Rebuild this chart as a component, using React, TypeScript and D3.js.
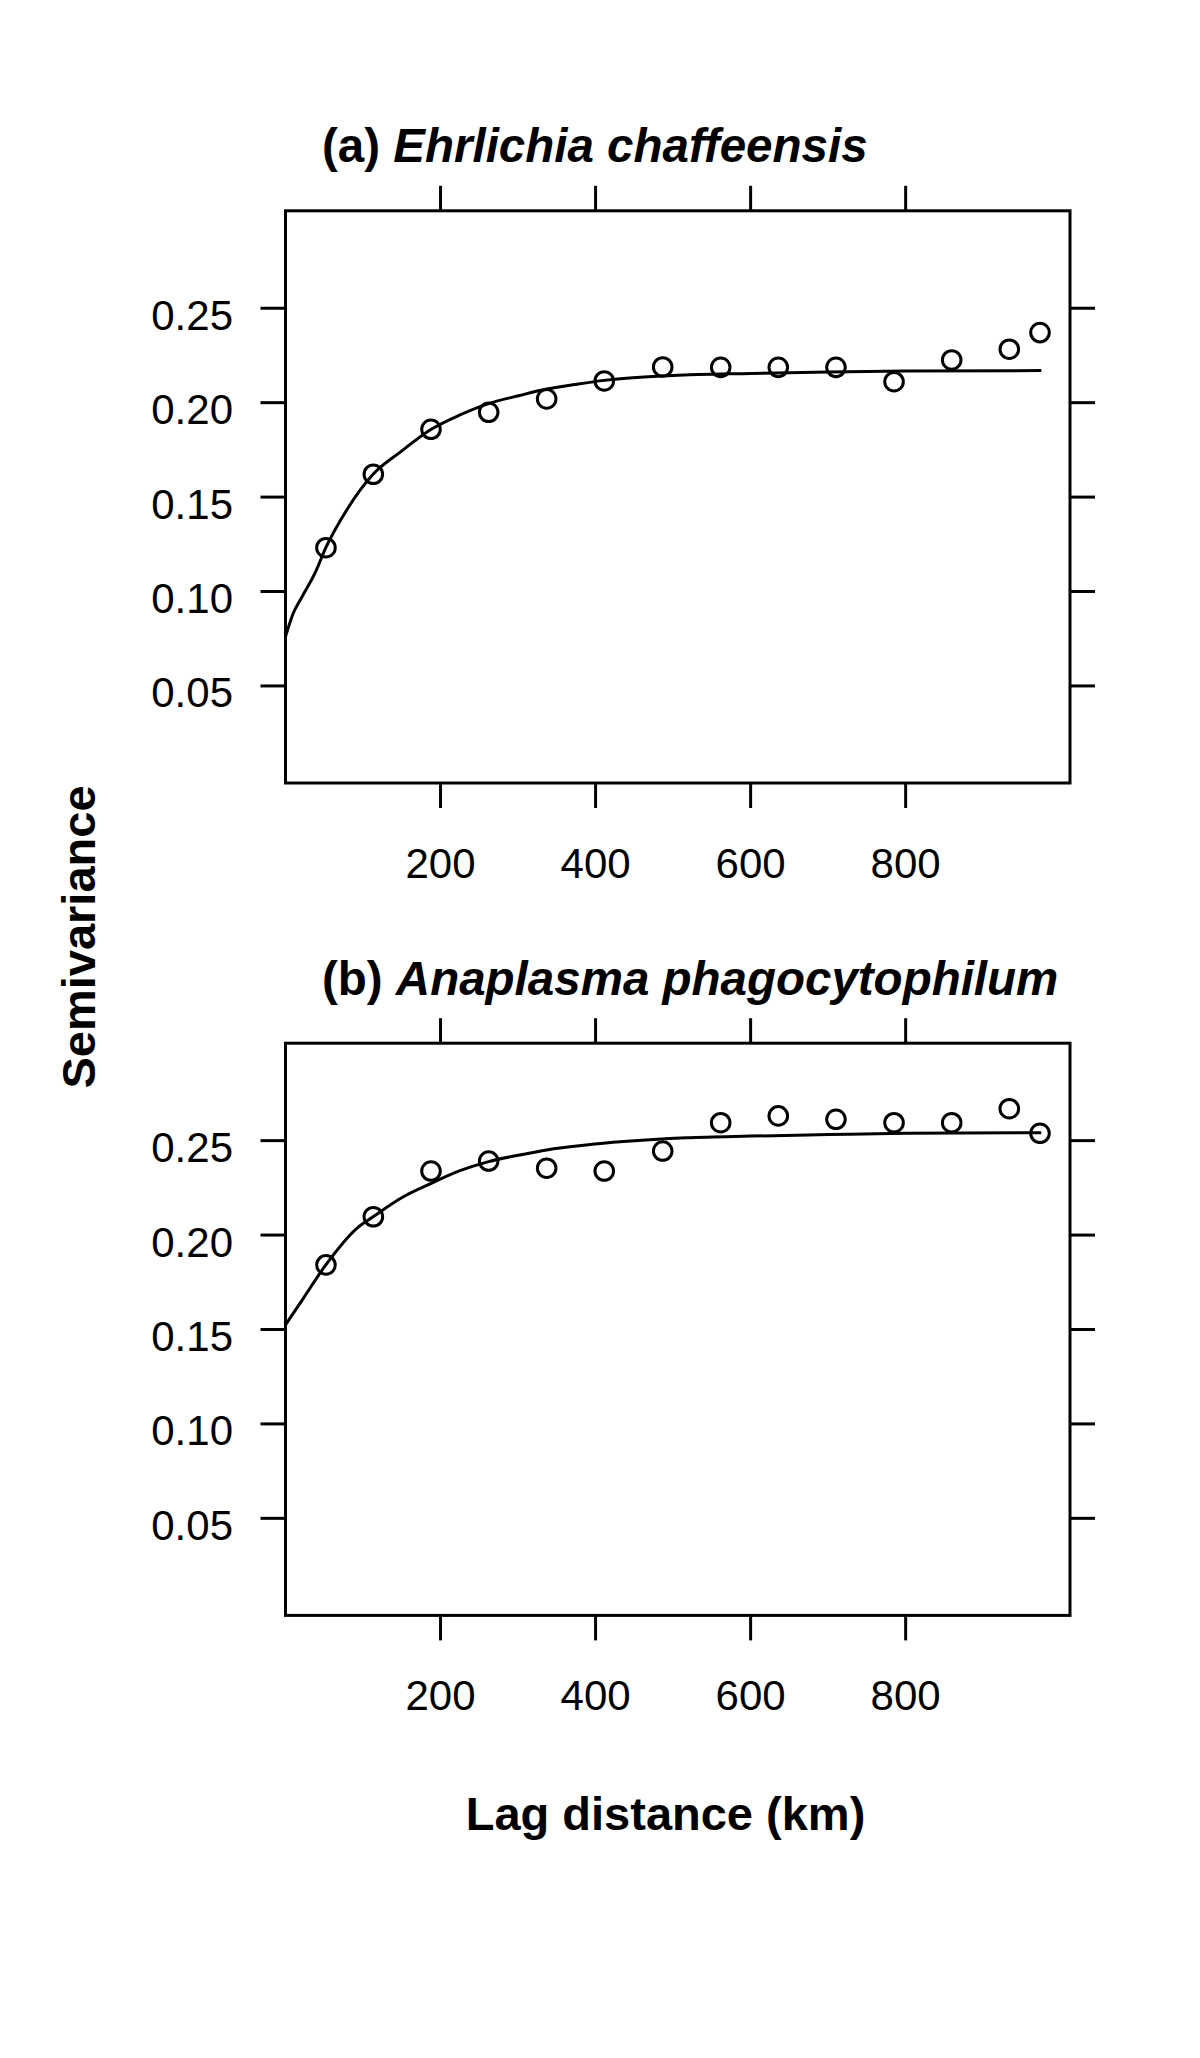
import React from "react";
import * as d3 from "d3";

// ---- data ----
const LAG_DIST = [52.2, 113.3, 187.7, 262.1, 336.9, 411.2, 486.6, 561.4, 635.7, 710.1, 785.0, 859.4, 933.7, 973.3];
const GAMMA_A = [0.1232, 0.1621, 0.1859, 0.1949, 0.202, 0.2115, 0.2189, 0.2187, 0.2187, 0.2187, 0.2111, 0.2226, 0.2283, 0.2371];
const GAMMA_B = [0.1842, 0.2097, 0.2339, 0.2392, 0.2354, 0.2339, 0.2445, 0.2595, 0.2631, 0.2613, 0.2595, 0.2595, 0.2669, 0.2539];

const FIT_DIST_A = [0, 10, 21, 38, 52, 79, 113, 148, 188, 225, 262, 302, 337, 376, 411, 453, 500, 600, 700, 800, 975];
const FIT_A = [0.0761, 0.0885, 0.097, 0.1097, 0.1232, 0.1432, 0.1621, 0.1738, 0.1859, 0.1935, 0.1995, 0.2038, 0.2072, 0.2098, 0.2118, 0.2133, 0.2144, 0.2155, 0.2163, 0.2168, 0.217];

const FIT_DIST_B = [0, 23, 52, 92, 113, 152, 188, 225, 262, 302, 337, 388, 436, 517, 600, 700, 800, 975];
const FIT_B = [0.1524, 0.1665, 0.1842, 0.2036, 0.2097, 0.2203, 0.2274, 0.2341, 0.2389, 0.2424, 0.2451, 0.2477, 0.2495, 0.2515, 0.2524, 0.2532, 0.2539, 0.2542];

const X_TICKS = [200, 400, 600, 800];
const Y_TICKS = [0.05, 0.1, 0.15, 0.2, 0.25];
const X_LIMITS = [0, 1012];
const Y_LIMITS = [-0.0014, 0.3016];

const TITLE_PREFIX = ["(a) ", "(b) "];
const TITLE_SPECIES = ["Ehrlichia chaffeensis", "Anaplasma phagocytophilum"];
const Y_LABEL = "Semivariance";
const X_LABEL = "Lag distance (km)";

// ---- layout ----
const W = 1200;
const H = 2058;
const LEFT = 285.5;
const RIGHT = 1070;
const PANEL_TOPS = [210.8, 1043.2];
const PANEL_H = 572.2;
const TICK = 25;
const FONT = "'Liberation Sans', Arial, Helvetica, sans-serif";

function Panel({ top, gamma, fitDist, fitVal, prefix, species }) {
  const x = d3.scaleLinear().domain(X_LIMITS).range([LEFT, RIGHT]);
  const y = d3.scaleLinear().domain(Y_LIMITS).range([top + PANEL_H, top]);
  const line = d3
    .line()
    .x((d) => x(d[0]))
    .y((d) => y(d[1]))
    .curve(d3.curveMonotoneX);
  const fitPts = fitDist.map((d, i) => [d, fitVal[i]]);
  const bottom = top + PANEL_H;
  return (
    <g>
      <text x={322} y={top - 48.5} fontFamily={FONT} fontSize={47.5} fontWeight="bold" fill="#000">
        {prefix}
        <tspan fontStyle="italic">{species}</tspan>
      </text>
      <rect x={LEFT} y={top} width={RIGHT - LEFT} height={PANEL_H} fill="none" stroke="#000" strokeWidth={3} />
      {X_TICKS.map((t) => (
        <g key={"x" + t}>
          <line x1={x(t)} x2={x(t)} y1={top} y2={top - TICK} stroke="#000" strokeWidth={3} />
          <line x1={x(t)} x2={x(t)} y1={bottom} y2={bottom + TICK} stroke="#000" strokeWidth={3} />
          <text x={x(t)} y={bottom + 95} textAnchor="middle" fontFamily={FONT} fontSize={42} fill="#000">
            {t}
          </text>
        </g>
      ))}
      {Y_TICKS.map((t) => (
        <g key={"y" + t}>
          <line x1={LEFT} x2={LEFT - TICK} y1={y(t)} y2={y(t)} stroke="#000" strokeWidth={3} />
          <line x1={RIGHT} x2={RIGHT + TICK} y1={y(t)} y2={y(t)} stroke="#000" strokeWidth={3} />
          <text x={233} y={y(t) + 21.5} textAnchor="end" fontFamily={FONT} fontSize={42} fill="#000">
            {d3.format(".2f")(t)}
          </text>
        </g>
      ))}
      <path d={line(fitPts) || ""} fill="none" stroke="#000" strokeWidth={3} />
      {LAG_DIST.map((d, i) => (
        <circle key={"p" + i} cx={x(d)} cy={y(gamma[i])} r={9.3} fill="none" stroke="#000" strokeWidth={3} />
      ))}
    </g>
  );
}

export default function App() {
  return (
    <svg
      width={W}
      height={H}
      viewBox={`0 0 ${W} ${H}`}
      style={{ position: "absolute", left: 0, top: 0, background: "#fff" }}
    >
      <rect x={0} y={0} width={W} height={H} fill="#fff" />
      <Panel top={PANEL_TOPS[0]} gamma={GAMMA_A} fitDist={FIT_DIST_A} fitVal={FIT_A} prefix={TITLE_PREFIX[0]} species={TITLE_SPECIES[0]} />
      <Panel top={PANEL_TOPS[1]} gamma={GAMMA_B} fitDist={FIT_DIST_B} fitVal={FIT_B} prefix={TITLE_PREFIX[1]} species={TITLE_SPECIES[1]} />
      <text
        transform={`translate(95, 937) rotate(-90)`}
        textAnchor="middle"
        fontFamily={FONT}
        fontSize={47}
        fontWeight="bold"
        fill="#000"
      >
        {Y_LABEL}
      </text>
      <text x={665.5} y={1830} textAnchor="middle" fontFamily={FONT} fontSize={47} fontWeight="bold" fill="#000">
        {X_LABEL}
      </text>
    </svg>
  );
}
